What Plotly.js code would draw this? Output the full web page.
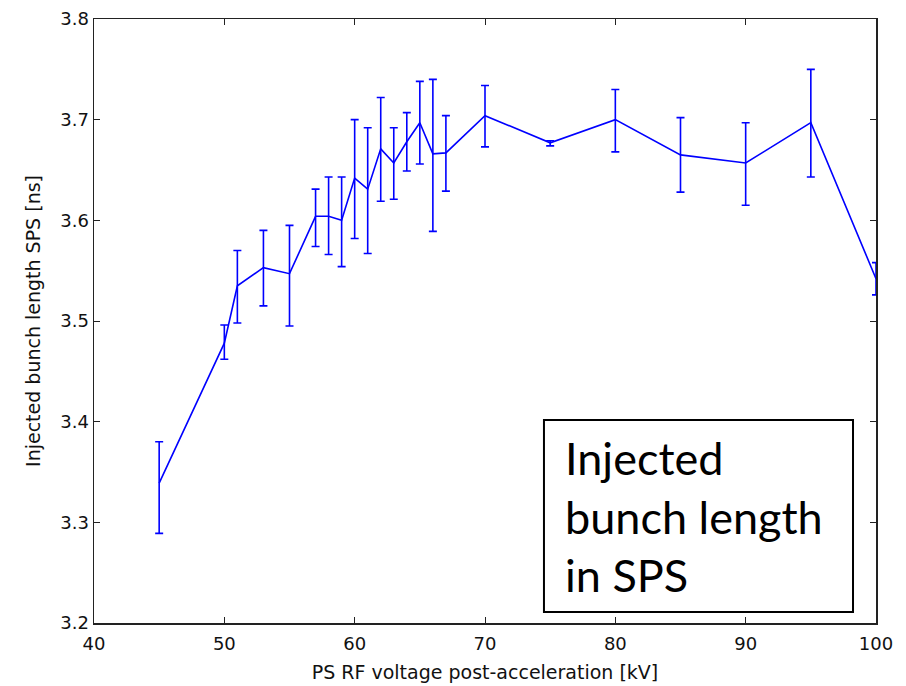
<!DOCTYPE html>
<html>
<head>
<meta charset="utf-8">
<script src="https://cdn.plot.ly/plotly-3.0.1.min.js"></script>
<style>html,body{margin:0;padding:0;background:#fff;}#chart{width:906px;height:686px;}</style>
</head>
<body>
<div id="chart"></div>
<script>
const voltage = [45, 50, 51, 53, 55, 57, 58, 59, 60, 61, 62, 63, 64, 65, 66, 67, 70, 75, 80, 85, 90, 95, 100];
const bunchLength = [3.339, 3.478, 3.535, 3.553, 3.547, 3.604, 3.604, 3.600, 3.642, 3.631, 3.671, 3.657, 3.678, 3.697, 3.666, 3.667, 3.704, 3.677, 3.700, 3.665, 3.657, 3.697, 3.542];
const errPlus = [0.041, 0.018, 0.035, 0.037, 0.048, 0.027, 0.039, 0.043, 0.058, 0.061, 0.051, 0.035, 0.029, 0.041, 0.074, 0.037, 0.030, 0.002, 0.030, 0.037, 0.040, 0.053, 0.016];
const errMinus = [0.050, 0.016, 0.037, 0.038, 0.052, 0.030, 0.038, 0.046, 0.060, 0.064, 0.052, 0.036, 0.029, 0.041, 0.077, 0.038, 0.031, 0.003, 0.032, 0.037, 0.042, 0.054, 0.016];
const xTicks = [40, 50, 60, 70, 80, 90, 100];
const yTicks = [3.2, 3.3, 3.4, 3.5, 3.6, 3.7, 3.8];
const yTickText = ['3.2', '3.3', '3.4', '3.5', '3.6', '3.7', '3.8'];

const trace = {
  x: voltage,
  y: bunchLength,
  type: 'scatter',
  mode: 'lines',
  line: {color: '#0000ff', width: 1.6},
  error_y: {
    type: 'data',
    symmetric: false,
    array: errPlus,
    arrayminus: errMinus,
    color: '#0000ff',
    thickness: 1.6,
    width: 4
  },
  hoverinfo: 'x+y'
};

const axisCommon = {
  showgrid: false,
  zeroline: false,
  showline: true,
  linecolor: '#222',
  linewidth: 1.5,
  mirror: 'ticks',
  ticks: 'inside',
  ticklen: 6,
  tickwidth: 1,
  tickcolor: '#222',
  tickfont: {family: 'DejaVu Sans', size: 18, color: '#111'}
};

const layout = {
  width: 906,
  height: 686,
  margin: {l: 94, r: 30, t: 19, b: 63},
  paper_bgcolor: '#fff',
  plot_bgcolor: '#fff',
  showlegend: false,
  xaxis: Object.assign({}, axisCommon, {
    range: [40, 100],
    tickvals: xTicks,
    ticktext: xTicks.map(String),
    ticklabelstandoff: 4,
    title: {text: 'PS RF voltage post-acceleration [kV]', font: {family: 'DejaVu Sans', size: 19, color: '#111'}, standoff: 12}
  }),
  yaxis: Object.assign({}, axisCommon, {
    range: [3.2, 3.8],
    tickvals: yTicks,
    ticktext: yTickText,
    title: {text: 'Injected bunch length SPS [ns]', font: {family: 'DejaVu Sans', size: 19, color: '#111'}, standoff: 14}
  }),
  shapes: [{
    type: 'rect', xref: 'paper', yref: 'paper',
    x0: 0.5754, x1: 0.9706, y0: 0.0182, y1: 0.3361,
    line: {color: '#000', width: 2},
    fillcolor: '#fff', layer: 'above'
  }],
  annotations: [{
    xref: 'paper', yref: 'paper',
    x: 0.5997, y: 0.1755,
    xanchor: 'left', yanchor: 'middle',
    align: 'left',
    showarrow: false,
    text: 'Injected<br>bunch length<br>in SPS',
    font: {family: 'Lato', size: 45, color: '#000'}
  }]
};

Plotly.newPlot('chart', [trace], layout, {displayModeBar: false, staticPlot: true});
</script>
</body>
</html>
